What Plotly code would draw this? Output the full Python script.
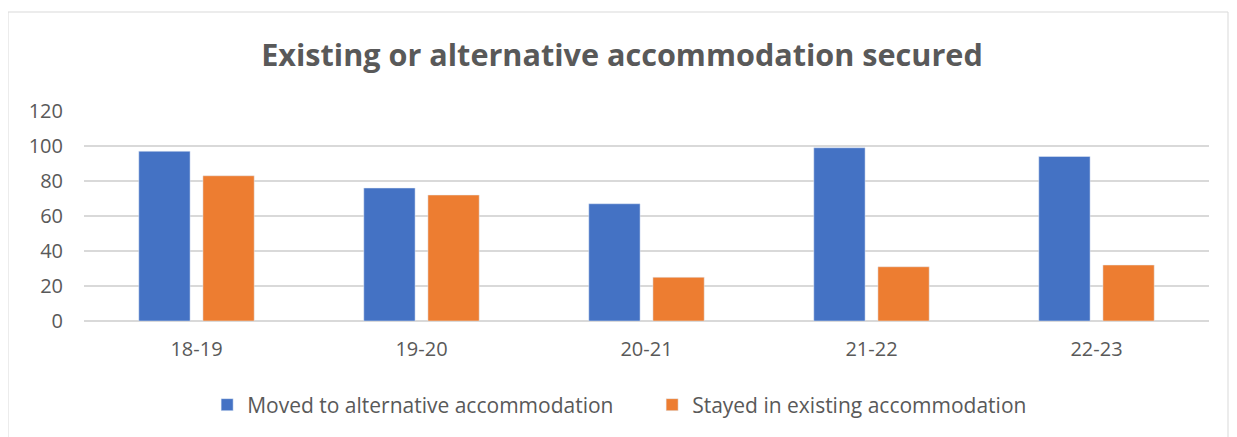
import plotly.graph_objects as go

categories = ["18-19", "19-20", "20-21", "21-22", "22-23"]
moved = [97, 76, 67, 99, 94]
stayed = [83, 72, 25, 31, 32]
series_names = ["Moved to alternative accommodation", "Stayed in existing accommodation"]
colors = ["#4472C4", "#ED7D31"]
y_ticks = [0, 20, 40, 60, 80, 100, 120]

# page has an 8px body margin; lay out in page pixels and subtract it
OFF = 8
W, H = 1237 - OFF, 437 - OFF
L, R, T, B = 84 - OFF, 28, 111 - OFF, 116
pw, ph = W - L - R, H - T - B

def px_x(p):
    return (p - OFF - L) / pw

def px_y(p):
    return (H - B - (p - OFF)) / ph

fig = go.Figure()
fig.add_trace(go.Bar(x=categories, y=moved, name=series_names[0], marker_color=colors[0]))
fig.add_trace(go.Bar(x=categories, y=stayed, name=series_names[1], marker_color=colors[1]))

font_family = "Open Sans, Noto Sans, sans-serif"
fig.update_layout(
    width=W, height=H,
    margin=dict(l=L, r=R, t=T, b=B),
    paper_bgcolor="white", plot_bgcolor="white",
    barmode="group", bargap=0.43, bargroupgap=0.2,
    font=dict(family=font_family, color="#595959", size=20),
    title=dict(text="<b>Existing or alternative accommodation secured</b>",
               x=(622 - OFF) / W, xanchor="center", y=1 - (55 - OFF) / H, yanchor="middle",
               font=dict(size=30.6, color="#595959", family=font_family)),
    xaxis=dict(showgrid=False, showline=False, ticks="", ticklabelstandoff=14,
               tickfont=dict(size=20, color="#595959")),
    yaxis=dict(range=[0, 120], tickvals=y_ticks, showgrid=True, gridcolor="#D9D9D9", gridwidth=1.5,
               zeroline=True, zerolinecolor="#D9D9D9", zerolinewidth=1.5, showline=False,
               ticks="", ticklabelstandoff=20, tickfont=dict(size=20, color="#595959")),
    legend=dict(orientation="h", x=0.505, xanchor="center", y=px_y(405), yanchor="middle",
                font=dict(size=21, color="#595959"), itemwidth=30, bgcolor="rgba(0,0,0,0)",
                entrywidth=400),
    shapes=[dict(type="rect", xref="paper", yref="paper",
                 x0=px_x(8), x1=px_x(1228), y0=px_y(445), y1=px_y(12),
                 line=dict(color="#D9D9D9", width=1), layer="below")],
)

fig.write_html("out.html")
